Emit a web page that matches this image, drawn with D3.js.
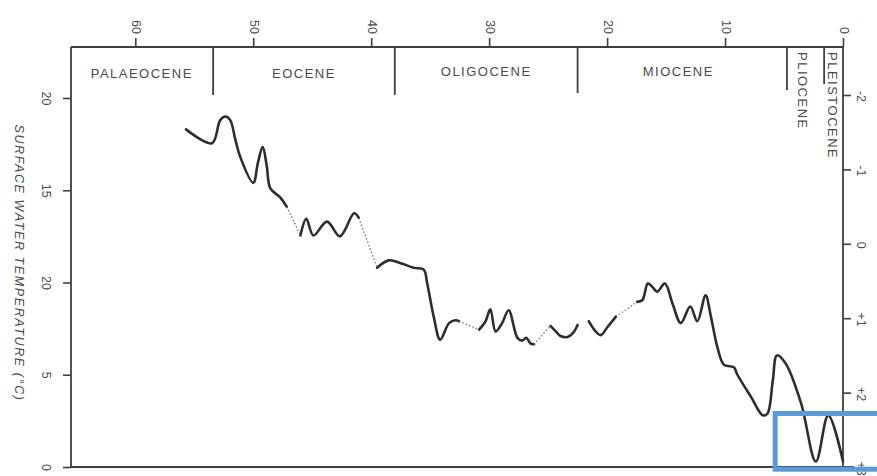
<!DOCTYPE html>
<html>
<head>
<meta charset="utf-8">
<script src="https://cdn.jsdelivr.net/npm/d3@7"></script>
<style>
  html, body { margin: 0; padding: 0; background: #fff; }
  svg { display: block; }
  text { font-family: "Liberation Sans", Arial, Helvetica, sans-serif; fill: #4a4a4a; }
</style>
</head>
<body>
<svg id="chart" width="877" height="476"></svg>
<script>
// Age axis (million years before present), read along the top edge
const ageTicks = [60, 50, 40, 30, 20, 10, 0];

// Left axis: surface water temperature (°C); labels as printed on the figure
const tempTicks = [0, 5, 10, 15, 20];
const tempTickLabels = ["0", "5", "20", "15", "20"];

// Right axis: oxygen isotope scale
const isoTicks = [-2, -1, 0, 1, 2, 3];
const isoTickLabels = ["-2", "-1", "0", "+1", "+2", "+3"];

// Epochs: name and [older, younger] boundary ages (Ma)
const epochNames = ["PALAEOCENE", "EOCENE", "OLIGOCENE", "MIOCENE", "PLIOCENE", "PLEISTOCENE"];
const epochBounds = [65.5, 53.4, 38.0, 22.5, 4.75, 1.6, 0];

// Temperature record, [age Ma, temp °C]; solid pieces in time order
const segPalaeoEocene = [[55.7,18.3],[53.5,17.55],[52.8,18.8],[52.35,19.0],[51.95,18.8],[51.5,17.7],[51.1,16.8],[50.0,15.4],[49.6,16.5],[49.2,17.35],[48.85,16.3],[48.55,15.1],[47.7,14.6],[47.15,14.1]];
const segMidEocene = [[46.0,12.55],[45.5,13.45],[44.9,12.55],[43.75,13.3],[42.65,12.5],[41.45,13.75],[41.05,13.5]];
const segLateEocene = [[39.5,10.8],[38.5,11.2],[37.5,11.05],[36.4,10.8],[35.55,10.7],[35.25,9.95],[34.7,8.15],[34.15,6.9],[33.4,7.8],[32.85,7.95],[32.55,7.9]];
const segOligocene = [[30.85,7.45],[30.3,7.9],[29.9,8.55],[29.45,7.35],[28.9,7.8],[28.35,8.5],[27.6,7.0],[27.2,6.85],[26.85,7.0],[26.5,6.7],[26.2,6.65]];
const segLateOligocene = [[24.8,7.65],[24.35,7.35],[23.95,7.1],[23.35,7.05],[22.9,7.25],[22.5,7.7]];
const segEarlyMiocene = [[21.55,7.9],[21.1,7.45],[20.55,7.15],[19.95,7.6],[19.25,8.15]];
const segNeogene = [[17.45,8.95],[17.0,9.05],[16.55,9.95],[16.15,9.75],[15.75,9.5],[15.1,9.95],[14.45,8.85],[13.75,7.8],[12.95,8.7],[12.35,7.9],[11.65,9.3],[11.2,8.15],[10.65,6.5],[10.1,5.55],[9.25,5.4],[8.95,5.0],[7.8,3.8],[6.8,2.8],[6.4,2.9],[5.95,4.7],[5.6,6.05],[4.85,5.6],[3.55,3.45],[2.3,0.3],[1.25,2.8],[0,0.3]];

const segments = [segPalaeoEocene, segMidEocene, segLateEocene, segOligocene, segLateOligocene, segEarlyMiocene, segNeogene];
// Poorly constrained intervals bridged with a dotted line (pairs of segment indices)
const dottedLinks = [[0, 1], [1, 2], [2, 3], [3, 4], [5, 6]];

// Frame
const frameLeft = 71, frameRight = 843, frameTop = 47, frameBottom = 467;

const svg = d3.select("#chart");
const ink = "#3f3f3f";

const x = d3.scaleLinear().domain([65.45, 0]).range([frameLeft, frameRight]);
const y = d3.scaleLinear().domain([0, 20]).range([frameBottom, 98]);
const yIso = d3.scaleLinear().domain([-2, 3]).range([95, frameBottom]);

// Frame lines
const frame = svg.append("g").attr("stroke", ink).attr("stroke-width", 1.8).attr("fill", "none");
frame.append("line").attr("x1", frameLeft).attr("x2", frameRight + 1).attr("y1", frameTop).attr("y2", frameTop);
frame.append("line").attr("x1", frameLeft).attr("x2", frameLeft).attr("y1", frameTop).attr("y2", frameBottom + 1);
frame.append("line").attr("x1", frameLeft - 1).attr("x2", frameRight + 11).attr("y1", frameBottom).attr("y2", frameBottom);
frame.append("line").attr("x1", frameRight).attr("x2", frameRight).attr("y1", frameTop).attr("y2", frameBottom);

function styleAxis(g) {
  g.select(".domain").remove();
  g.selectAll(".tick line").attr("stroke", ink).attr("stroke-width", 1.6);
  g.selectAll(".tick text").attr("fill", "#4a4a4a").attr("font-size", 12.5)
    .attr("font-family", "'Liberation Sans', Arial, sans-serif");
}

// Top age axis, labels rotated
const gTop = svg.append("g").attr("transform", `translate(0,${frameTop})`)
  .call(d3.axisTop(x).tickValues(ageTicks).tickSize(9).tickSizeOuter(0).tickFormat(d3.format("d")))
  .call(styleAxis);
gTop.selectAll(".tick text")
  .attr("x", 0).attr("y", 0).attr("dy", null)
  .attr("transform", "translate(0,-13) rotate(90)")
  .attr("text-anchor", "end").attr("dominant-baseline", "central");

// Left temperature axis
const gLeft = svg.append("g").attr("transform", `translate(${frameLeft},0)`)
  .call(d3.axisLeft(y).tickValues(tempTicks).tickSize(8).tickSizeOuter(0)
    .tickFormat((d, i) => tempTickLabels[i]))
  .call(styleAxis);
gLeft.selectAll(".tick text")
  .attr("x", 0).attr("y", 0).attr("dy", null)
  .attr("transform", "translate(-25,0) rotate(90)")
  .attr("text-anchor", "middle").attr("dominant-baseline", "central");

// Right isotope axis
const gRight = svg.append("g").attr("transform", `translate(${frameRight},0)`)
  .call(d3.axisRight(yIso).tickValues(isoTicks).tickSize(8).tickSizeOuter(0)
    .tickFormat((d, i) => isoTickLabels[i]))
  .call(styleAxis);
gRight.selectAll(".tick text")
  .attr("x", 0).attr("y", 0).attr("dx", null).attr("dy", null)
  .attr("transform", "translate(18,1) rotate(90)")
  .attr("text-anchor", "middle").attr("dominant-baseline", "central");

// Axis title
svg.append("text")
  .attr("transform", `translate(19,${(113 + 413) / 2}) rotate(90)`)
  .attr("text-anchor", "middle").attr("dominant-baseline", "central")
  .attr("font-size", 12.5).attr("font-style", "italic").attr("letter-spacing", 1.6)
  .text("SURFACE WATER TEMPERATURE (°C)");

// Epoch band: dividers and names
const dividerDepth = [95, 95, 93, 90, 84];
svg.append("g").attr("stroke", ink).attr("stroke-width", 1.8)
  .selectAll("line").data(epochBounds.slice(1, 6)).join("line")
  .attr("x1", d => x(d)).attr("x2", d => x(d))
  .attr("y1", frameTop).attr("y2", (d, i) => dividerDepth[i]);

const epochs = epochNames.map((name, i) => ({ name, older: epochBounds[i], younger: epochBounds[i + 1] }));
const band = svg.append("g").attr("font-size", 13).attr("letter-spacing", 1.5);
epochs.slice(0, 4).forEach((e, i) => {
  band.append("text")
    .attr("x", (x(e.older) + x(e.younger)) / 2 + (i === 3 ? -4 : 0))
    .attr("y", i < 2 ? 78 : 76)
    .attr("text-anchor", "middle")
    .text(e.name);
});
const narrowOffset = [-3, -1];
epochs.slice(4).forEach((e, i) => {
  band.append("text")
    .attr("transform", `translate(${(x(e.older) + x(e.younger)) / 2 + narrowOffset[i]},52) rotate(90)`)
    .attr("text-anchor", "start").attr("dominant-baseline", "central")
    .text(e.name);
});

// Temperature curve
const line = d3.line().x(d => x(d[0])).y(d => y(d[1])).curve(d3.curveCatmullRom.alpha(0.5));
svg.append("g").attr("fill", "none").attr("stroke", "#2e2e2e").attr("stroke-width", 2.6)
  .attr("stroke-linejoin", "round").attr("stroke-linecap", "round")
  .selectAll("path").data(segments).join("path").attr("d", line);

const straight = d3.line().x(d => x(d[0])).y(d => y(d[1]));
svg.append("g").attr("fill", "none").attr("stroke", "#6a6a6a").attr("stroke-width", 1.3)
  .attr("stroke-dasharray", "1.4,2.2")
  .selectAll("path").data(dottedLinks).join("path")
  .attr("d", ([a, b]) => straight([segments[a][segments[a].length - 1], segments[b][0]]));

// Highlight box over the most recent interval
svg.append("rect")
  .attr("x", x(5.75)).attr("y", y(2.9))
  .attr("width", 120).attr("height", y(-0.12) - y(2.9))
  .attr("fill", "none").attr("stroke", "#5b9bd5").attr("stroke-width", 5);
</script>
</body>
</html>
